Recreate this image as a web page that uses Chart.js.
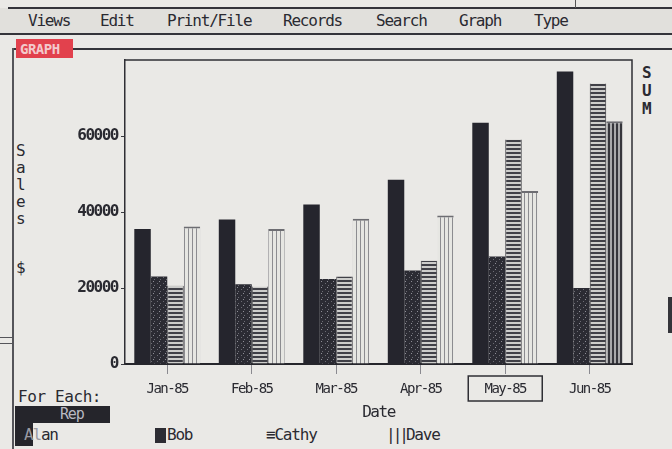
<!DOCTYPE html>
<html>
<head>
<meta charset="utf-8">
<script src="https://cdn.jsdelivr.net/npm/chart.js@4.4.1/dist/chart.umd.min.js"></script>
<style>
  html, body { margin: 0; padding: 0; background: #eae9e6; }
  #screen {
    position: relative; width: 672px; height: 449px; overflow: hidden;
    background: #eae9e6; color: #2a2a31;
    font-family: "DejaVu Sans Mono", "Liberation Mono", monospace;
  }
  #screen canvas { position: absolute; left: 0; top: 0; }
  .t { position: absolute; white-space: pre; font-size: 16px; line-height: 18px; letter-spacing: -1.2px; }
  .ln { position: absolute; background: #34343a; }
  #menu { position: absolute; left: 0; top: 8px; width: 672px; height: 25px; background: #e1e0dc; }
</style>
</head>
<body>
<div id="screen">
  <div id="menu"></div>
  <div class="ln" style="left:8px;top:7px;width:664px;height:2px;"></div>
  <div class="ln" style="left:0;top:33px;width:672px;height:2px;"></div>
  <div class="ln" style="left:575px;top:0;width:1px;height:8px;background:#555;"></div>

  <div class="t" style="left:28px;top:12px;">Views</div>
  <div class="t" style="left:100px;top:12px;">Edit</div>
  <div class="t" style="left:167px;top:12px;">Print/File</div>
  <div class="t" style="left:283px;top:12px;">Records</div>
  <div class="t" style="left:376px;top:12px;">Search</div>
  <div class="t" style="left:459px;top:12px;">Graph</div>
  <div class="t" style="left:534px;top:12px;">Type</div>

  <!-- graph window frame -->
  <div class="ln" style="left:73px;top:48px;width:599px;height:1.5px;"></div>
  <div class="ln" style="left:12px;top:48px;width:4px;height:1.5px;"></div>
  <div class="ln" style="left:12px;top:48px;width:1.5px;height:401px;background:#55555a;"></div>
  <div class="ln" style="left:0;top:337px;width:12px;height:1px;background:#55555a;"></div>
  <div class="ln" style="left:0;top:343px;width:12px;height:1px;background:#55555a;"></div>
  <div class="ln" style="left:668px;top:297px;width:4px;height:36px;"></div>
  <div style="position:absolute;left:16px;top:39px;width:57px;height:19px;background:#e2414d;"></div>
  <div class="t" style="left:20px;top:40px;font-size:14px;font-weight:bold;color:#f3c9cc;letter-spacing:-0.5px;">GRAPH</div>

  <!-- axis captions -->
  <div class="t" style="left:16px;top:142px;line-height:17px;">S<br>a<br>l<br>e<br>s</div>
  <div class="t" style="left:16px;top:259px;">$</div>
  <div class="t" style="left:642px;top:64px;line-height:18px;font-weight:bold;">S<br>U<br>M</div>

  <!-- footer: grouping and legend -->
  <div class="t" style="left:18px;top:388px;letter-spacing:-0.4px;">For Each:</div>
  <div style="position:absolute;left:15px;top:406px;width:95px;height:17px;background:#25252b;"></div>
  <div style="position:absolute;left:15px;top:406px;width:18px;height:40px;background:#25252b;"></div>
  <div class="t" style="left:60px;top:405px;font-size:15px;color:#b9b9c2;">Rep</div>
  <div class="t" style="left:24px;top:426px;"><span style="color:#9a9aa2;">Al</span>an</div>
  <div style="position:absolute;left:155px;top:428px;width:11px;height:15px;background:#2c2c33;"></div>
  <div class="t" style="left:167px;top:426px;">Bob</div>
  <div class="t" style="left:266px;top:426px;">≡Cathy</div>
  <div class="t" style="left:386px;top:426px;letter-spacing:-3px;">|||<span style="letter-spacing:-1.2px;">Dave</span></div>

  <canvas id="chart" width="672" height="449"></canvas>
</div>

<script>
// Monthly sales per rep, Jan-85 .. Jun-85
const months = ['Jan-85', 'Feb-85', 'Mar-85', 'Apr-85', 'May-85', 'Jun-85'];
const alan   = [35500, 38000, 42000, 48500, 63500, 77000];
const bob    = [23000, 21000, 22400, 24600, 28300, 20000];
const cathy  = [20600, 20400, 23000, 27200, 59100, 73800];
const dave   = [36200, 35500, 38200, 39100, 45500, 63900];
const yTickValues = [0, 20000, 40000, 60000];
const yMax = 80000;
const selectedMonth = 'May-85';

const canvas = document.getElementById('chart');
const ctx = canvas.getContext('2d');

// Fill patterns in the style of a monochrome screen
function pattern(w, h, paint) {
  const c = document.createElement('canvas');
  c.width = w; c.height = h;
  paint(c.getContext('2d'));
  return ctx.createPattern(c, 'repeat');
}
const solidDark = '#25252d';
const speckled = pattern(6, 6, g => {
  g.fillStyle = '#2b2b33'; g.fillRect(0, 0, 6, 6);
  g.fillStyle = '#6c6c74'; g.fillRect(1, 1, 1, 1); g.fillRect(4, 3, 1, 1);
  g.fillStyle = '#8e8e96'; g.fillRect(3, 5, 1, 1);
});
const hStripes = pattern(4, 4, g => {
  g.fillStyle = '#cdcdcb'; g.fillRect(0, 0, 4, 4);
  g.fillStyle = '#404047'; g.fillRect(0, 0, 4, 2);
});
const vStripesLight = pattern(4, 4, g => {
  g.fillStyle = '#e6e6e2'; g.fillRect(0, 0, 4, 4);
  g.fillStyle = '#8c8c90'; g.fillRect(0, 0, 1, 4);
});
const vStripesDark = pattern(4, 4, g => {
  g.fillStyle = '#a9a9ab'; g.fillRect(0, 0, 4, 4);
  g.fillStyle = '#36363c'; g.fillRect(0, 0, 2, 4);
});
const daveFills = months.map((m, i) => i === months.length - 1 ? vStripesDark : vStripesLight);

// Plot frame (top and right edges) and the highlighted month box
const framePlugin = {
  id: 'frame',
  beforeDraw(chart) { chart.ctx.letterSpacing = '-1.5px'; },
  afterDraw(chart) {
    const { ctx: c, chartArea: a, scales } = chart;
    c.save();
    c.letterSpacing = '0px';
    c.strokeStyle = '#2f2f35';
    c.lineWidth = 1.5;
    c.beginPath();
    c.moveTo(a.left, a.top); c.lineTo(a.right, a.top); c.lineTo(a.right, a.bottom);
    c.stroke();
    const xs = scales.x;
    const cx = xs.getPixelForValue(months.indexOf(selectedMonth));
    c.lineWidth = 1.5;
    c.strokeRect(cx - 37, a.bottom + 12, 74, 25);
    c.restore();
    chart.ctx.letterSpacing = '0px';
  }
};

new Chart(ctx, {
  type: 'bar',
  data: {
    labels: months,
    datasets: [
      { label: 'Alan',  data: alan,  backgroundColor: solidDark, borderWidth: 0 },
      { label: 'Bob',   data: bob,   backgroundColor: speckled, borderWidth: 0 },
      { label: 'Cathy', data: cathy, backgroundColor: hStripes,
        borderColor: '#2f2f35', borderWidth: { left: 1, right: 1, top: 0, bottom: 0 } },
      { label: 'Dave',  data: dave,  backgroundColor: daveFills,
        borderColor: '#6d6d72', borderWidth: { left: 0, right: 0, top: 2, bottom: 0 } }
    ]
  },
  options: {
    responsive: false,
    animation: false,
    devicePixelRatio: 1,
    layout: { padding: { top: 60, right: 40, left: 0, bottom: 27 } },
    datasets: { bar: { categoryPercentage: 0.78, barPercentage: 1.0, borderSkipped: 'start' } },
    plugins: { legend: { display: false }, tooltip: { enabled: false }, title: { display: false } },
    scales: {
      x: {
        grid: { display: true, drawOnChartArea: false, offset: false, tickLength: 10, color: '#8a8a90', lineWidth: 1 },
        border: { display: true, color: '#26262c', width: 2 },
        ticks: { color: '#2a2a31', padding: 7, font: { family: 'DejaVu Sans Mono', size: 14 } },
        title: { display: true, text: 'Date', color: '#2a2a31', padding: { top: 2, bottom: 0 },
                 font: { family: 'DejaVu Sans Mono', size: 16 } },
        afterFit(scale) { scale.height = 58; }
      },
      y: {
        min: 0, max: yMax,
        grid: { display: true, drawOnChartArea: false, tickLength: 4, color: '#3a3a40' },
        border: { display: true, color: '#2f2f35', width: 1.5 },
        ticks: { color: '#2a2a31', padding: 3, callback: v => String(v),
                 font: { family: 'DejaVu Sans Mono', size: 16, weight: 'bold' } },
        afterBuildTicks(scale) { scale.ticks = yTickValues.map(v => ({ value: v })); },
        afterFit(scale) { scale.width = 125; }
      }
    }
  },
  plugins: [framePlugin]
});
</script>
</body>
</html>
